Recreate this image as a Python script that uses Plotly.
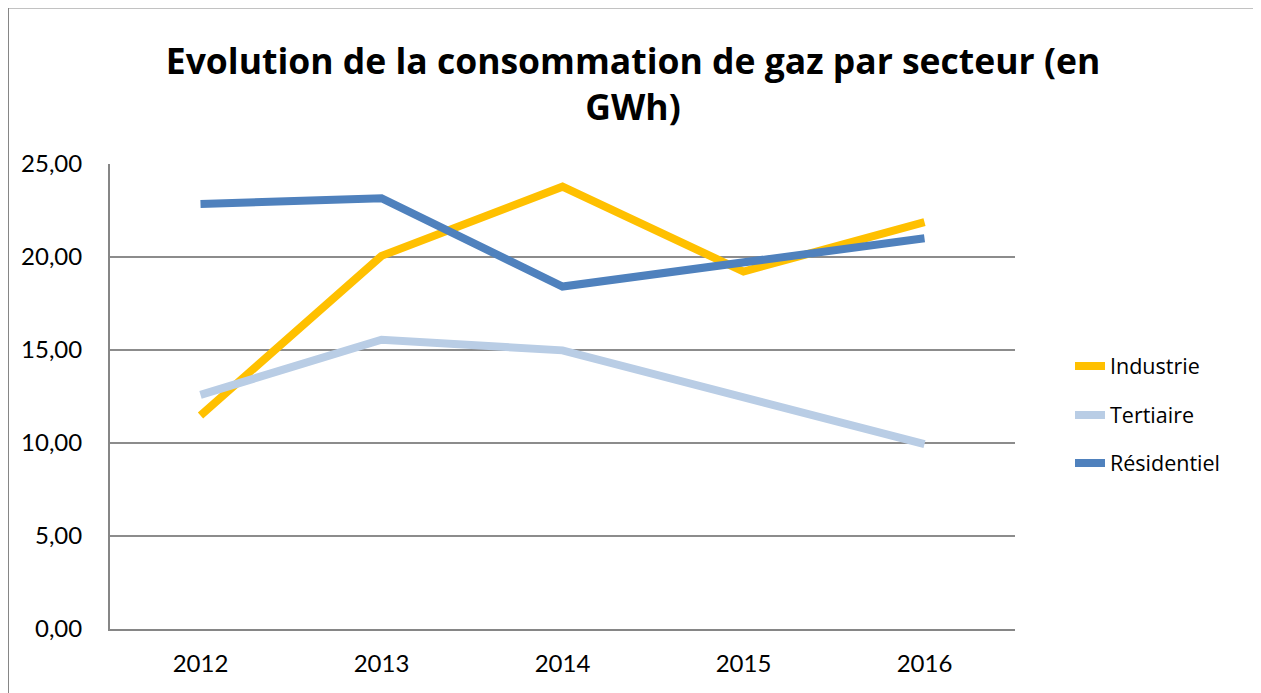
import plotly.graph_objects as go

years = ["2012", "2013", "2014", "2015", "2016"]
industrie = [11.48, 20.06, 23.78, 19.22, 21.87]
tertiaire = [12.59, 15.55, 14.98, 12.43, 9.94]
residentiel = [22.85, 23.16, 18.41, 19.67, 21.01]

names = ["Industrie", "Tertiaire", "Résidentiel"]
colors = ["#FFC000", "#B9CDE5", "#4F81BD"]
series = [industrie, tertiaire, residentiel]
legend_ids = ["legend", "legend2", "legend3"]
legend_screen_y = [366, 415, 463]

FONT = "Lato"
OFF = 8  # page body margin
W, H = 1261 - OFF, 693 - OFF
L, T = 110 - OFF, 164 - OFF
R = W - (1015 - OFF)
B = H - (629 - OFF)
pw, ph = W - L - R, H - T - B


def px(sx):
    return (sx - OFF - L) / pw


def py(sy):
    return (H - B - (sy - OFF)) / ph


def fy(sy):
    return (H - (sy - OFF)) / H


fig = go.Figure()
for n, c, s, lg in zip(names, colors, series, legend_ids):
    fig.add_trace(go.Scatter(x=years, y=s, name=n, mode="lines", showlegend=True,
                             line=dict(color=c, width=8), legend=lg))

leg_common = dict(x=px(1070), xanchor="left", yanchor="middle",
                  font=dict(family="Open Sans", size=21.5, color="#000000"),
                  bgcolor="rgba(0,0,0,0)", borderwidth=0)
legs = {lid: dict(y=py(sy), **leg_common) for lid, sy in zip(legend_ids, legend_screen_y)}

fig.update_layout(
    width=W, height=H,
    margin=dict(l=L, r=R, t=T, b=B),
    paper_bgcolor="white", plot_bgcolor="white",
    separators=", ",
    showlegend=True,
    title=dict(text="Evolution de la consommation de gaz par secteur (en<br>GWh)",
               x=(633 - OFF) / W, xanchor="center", y=fy(73.5), yanchor="middle",
               font=dict(family="Open Sans", size=35.5, color="#000000", weight="bold")),
    xaxis=dict(type="category", range=[-0.5, 4.5], showgrid=False,
               showline=True, linecolor="#868686", linewidth=2,
               ticks="", ticklabelstandoff=12,
               tickfont=dict(family=FONT, size=24, color="#000000")),
    yaxis=dict(range=[0, 25], dtick=5, tickformat=".2f",
               showgrid=True, gridcolor="#8c8c8c", gridwidth=2,
               zeroline=False, showline=True, linecolor="#868686", linewidth=2,
               ticks="", ticklabelstandoff=21,
               tickfont=dict(family=FONT, size=24, color="#000000")),
    shapes=[dict(type="rect", xref="paper", yref="paper",
                 x0=px(8), x1=px(1256.5), y0=py(720), y1=py(7.5),
                 line=dict(color="#868686", width=2), fillcolor="rgba(0,0,0,0)", layer="below")],
    **legs,
)
fig.write_html("out.html")
